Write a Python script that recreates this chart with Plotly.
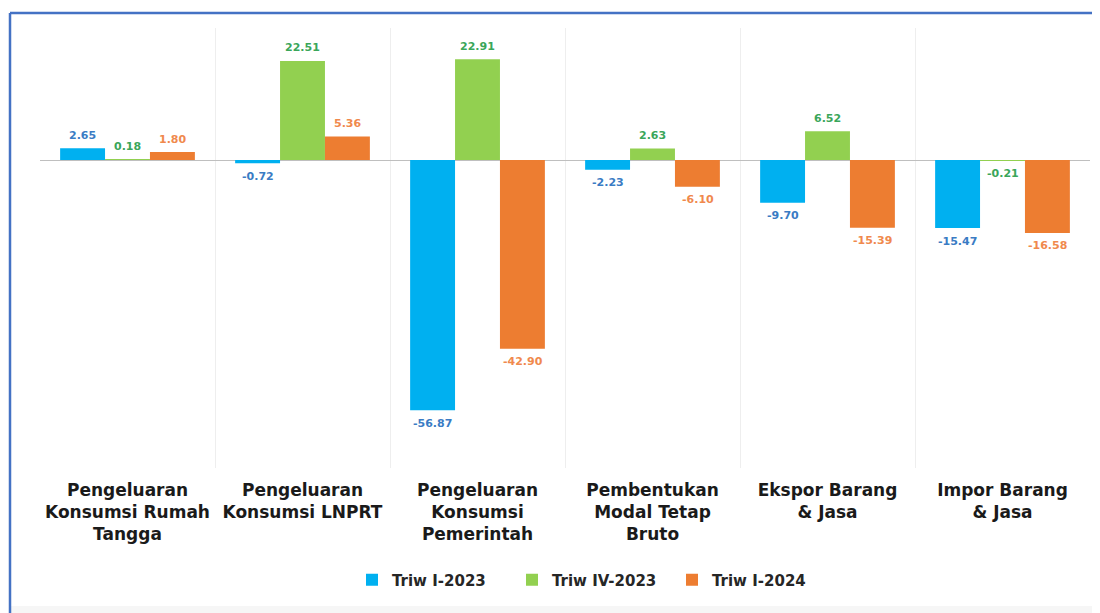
import plotly.graph_objects as go

categories = [
    "Pengeluaran<br>Konsumsi Rumah<br>Tangga",
    "Pengeluaran<br>Konsumsi LNPRT",
    "Pengeluaran<br>Konsumsi<br>Pemerintah",
    "Pembentukan<br>Modal Tetap<br>Bruto",
    "Ekspor Barang<br>& Jasa",
    "Impor Barang<br>& Jasa",
]
series_names = ["Triw I-2023", "Triw IV-2023", "Triw I-2024"]
triw_i_2023 = [2.65, -0.72, -56.87, -2.23, -9.70, -15.47]
triw_iv_2023 = [0.18, 22.51, 22.91, 2.63, 6.52, -0.21]
triw_i_2024 = [1.80, 5.36, -42.90, -6.10, -15.39, -16.58]

bar_colors = ["#00B0F0", "#92D050", "#ED7D31"]
label_colors = ["#3A7CC4", "#3AA65A", "#F0894D"]

FONT = "DejaVu Sans"

# page body has an 8px margin; work in screen coordinates and convert
OFF = 8
W, H = 1100, 613
SL, SR, ST, SB = 40, 1090, 28, 468  # plot area in screen px
L = SL - OFF
T = ST - OFF
R = W - (SR - OFF)
B = H - (SB - OFF)
pw, ph = SR - SL, SB - ST

def px(x):
    return (x - SL) / pw

def py(y):
    return (SB - y) / ph

fig = go.Figure()
all_series = [triw_i_2023, triw_iv_2023, triw_i_2024]
annotations = []
for i, (name, vals, bc, lc) in enumerate(zip(series_names, all_series, bar_colors, label_colors)):
    fig.add_trace(go.Bar(
        x=categories, y=vals, name=name,
        marker=dict(color=bc, line=dict(width=0)),
    ))
    for cat, v in zip(categories, vals):
        annotations.append(dict(
            x=cat, y=v, xref="x", yref="y", text=f"{v:.2f}", showarrow=False,
            xshift=(i - 1) * 45, yshift=13 if v >= 0 else -13,
            yanchor="middle", xanchor="center",
            font=dict(family=FONT, size=11, color=lc, weight="bold"),
        ))

fig.update_layout(
    width=W, height=H,
    margin=dict(l=L, r=R, t=T, b=B, autoexpand=False),
    paper_bgcolor="white", plot_bgcolor="white",
    barmode="group", bargap=0.23, bargroupgap=0,
    font=dict(family=FONT, color="#262626"),
    showlegend=True,
    annotations=annotations,
    legend=dict(
        orientation="h", x=px(352), xanchor="left", y=py(580), yanchor="middle",
        font=dict(family=FONT, size=15, color="#262626", weight="bold"),
        traceorder="normal", entrywidth=115, entrywidthmode="pixels",
    ),
    xaxis=dict(
        tickson="boundaries", showgrid=True, gridcolor="#EEEEEE", gridwidth=1,
        ticks="", ticklabelstandoff=10,
        tickfont=dict(family=FONT, size=17, color="#1a1a1a", weight="bold"),
        showline=False, fixedrange=True, automargin=False,
    ),
    yaxis=dict(
        range=[-70, 30], showgrid=False, showticklabels=False,
        zeroline=True, zerolinecolor="#BFBFBF", zerolinewidth=1,
        showline=False, automargin=False,
    ),
    shapes=[
        dict(type="line", xref="paper", yref="paper",
             x0=px(10), x1=px(1120), y0=py(13), y1=py(13),
             line=dict(color="#4472C4", width=2.5)),
        dict(type="line", xref="paper", yref="paper",
             x0=px(10), x1=px(10), y0=py(13), y1=py(640),
             line=dict(color="#4472C4", width=2.5)),
        dict(type="rect", xref="paper", yref="paper",
             x0=px(11), x1=px(1120), y0=py(606), y1=py(640),
             fillcolor="#F6F6F6", line=dict(width=0), layer="below"),
    ],
)

fig.write_html("out.html")
